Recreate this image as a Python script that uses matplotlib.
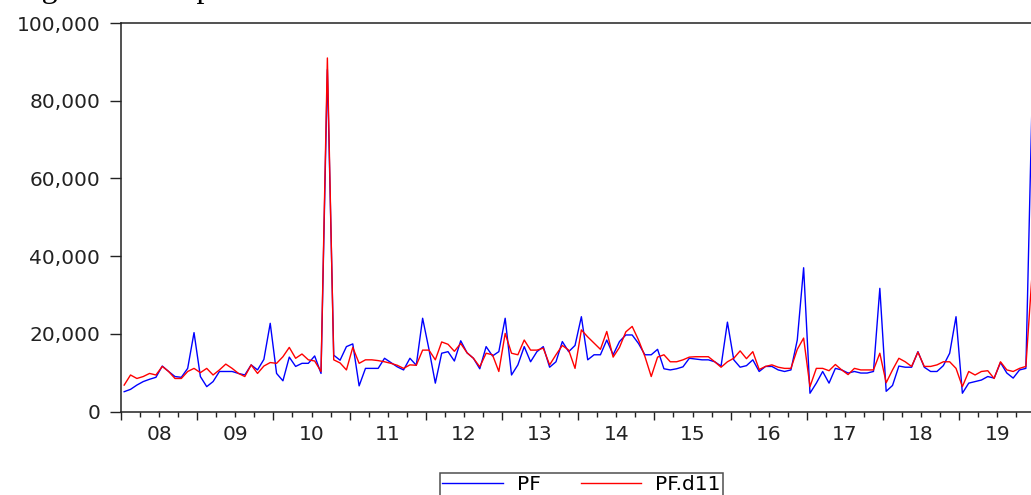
import numpy as np
import matplotlib.pyplot as plt
from matplotlib.ticker import FuncFormatter, MultipleLocator
import matplotlib.transforms as mtransforms

# PF y PF.d11, mensual 2008M01 - 2019M12 (miles)
pf = [5.1, 5.7, 6.8, 7.7, 8.3, 8.8, 11.7, 10.3, 9.0, 8.8, 11.1, 20.3,
      9.0, 6.4, 7.7, 10.3, 10.3, 10.3, 9.8, 9.4, 12.0, 10.7, 13.4, 22.7,
      9.8, 7.9, 14.0, 11.6, 12.4, 12.4, 14.3, 9.8, 88.0, 14.5, 13.2, 16.7,
      17.4, 6.6, 11.1, 11.1, 11.1, 13.7, 12.6, 11.5, 10.7, 13.7, 11.9, 24.0,
      16.0, 7.3, 15.0, 15.4, 13.0, 18.2, 15.1, 13.7, 11.0, 16.7, 14.3, 15.4,
      24.0, 9.4, 12.0, 16.7, 12.8, 15.4, 16.7, 11.4, 12.8, 18.0, 15.4, 17.0,
      24.4, 13.3, 14.6, 14.6, 18.4, 14.6, 18.0, 19.7, 19.7, 17.5, 14.6, 14.6,
      16.0, 11.0, 10.7, 11.0, 11.5, 13.7, 13.5, 13.3, 13.3, 12.8, 11.7, 23.0,
      13.3, 11.4, 11.8, 13.3, 10.3, 11.6, 11.6, 10.7, 10.3, 10.7, 18.4, 37.0,
      4.7, 7.3, 10.3, 7.3, 11.1, 10.7, 9.9, 10.3, 9.9, 9.9, 10.3, 31.7,
      5.2, 6.7, 11.7, 11.4, 11.4, 15.4, 11.4, 10.3, 10.3, 11.8, 15.0, 24.4,
      4.7, 7.3, 7.7, 8.1, 9.0, 8.6, 12.6, 9.9, 8.6, 10.7, 11.1, 82.0]

pf_d11 = [6.8, 9.4, 8.5, 9.0, 9.8, 9.4, 11.6, 10.3, 8.5, 8.5, 10.3, 11.1,
          10.0, 11.1, 9.4, 10.7, 12.2, 11.1, 9.8, 9.0, 12.0, 9.8, 11.7, 12.6,
          12.4, 14.1, 16.5, 13.7, 14.8, 13.3, 13.0, 10.3, 91.0, 13.3, 12.5, 10.7,
          16.5, 12.4, 13.3, 13.3, 13.1, 12.8, 12.4, 11.9, 11.1, 12.0, 11.9, 15.8,
          15.8, 13.3, 17.9, 17.3, 15.5, 17.5, 15.1, 13.7, 11.5, 15.0, 14.6, 10.3,
          20.1, 15.0, 14.6, 18.4, 15.8, 15.8, 16.3, 12.0, 14.6, 17.0, 15.8, 11.1,
          21.0, 19.2, 17.6, 16.0, 20.6, 14.0, 16.5, 20.5, 21.9, 18.4, 14.2, 9.0,
          14.0, 14.6, 12.8, 12.8, 13.3, 14.0, 14.1, 14.1, 14.1, 12.8, 11.4, 12.8,
          13.7, 15.6, 13.6, 15.4, 10.8, 11.6, 12.0, 11.4, 11.1, 11.1, 16.0, 18.9,
          6.4, 11.1, 11.1, 10.5, 12.1, 10.7, 9.5, 11.1, 10.7, 10.7, 10.7, 15.0,
          7.4, 10.7, 13.7, 12.8, 11.6, 15.3, 11.6, 11.6, 12.0, 12.8, 12.8, 11.1,
          6.4, 10.3, 9.4, 10.3, 10.5, 8.5, 12.8, 10.7, 10.3, 11.1, 11.6, 36.0]

year_labels = ["08", "09", "10", "11", "12", "13", "14", "15", "16", "17", "18", "19"]

pf = np.array(pf) * 1000
pf_d11 = np.array(pf_d11) * 1000
t = 2008 + (np.arange(len(pf)) + 0.5) / 12

plt.rcParams["font.family"] = ["DejaVu Sans"]

fig = plt.figure(figsize=(10.31, 4.95), dpi=100)
# el grafico original esta recortado por la derecha
ax = fig.add_axes([121 / 1031, 83.5 / 495, 914.4 / 1031, 388.5 / 495])

ax.plot(t, pf, color="#0000FF", lw=1.0, label="PF")
ax.plot(t, pf_d11, color="#FF0000", lw=1.0, label="PF.d11")

ax.set_xlim(2008, 2020)
ax.set_ylim(0, 100000)

ax.yaxis.set_major_locator(MultipleLocator(20000))
ax.yaxis.set_major_formatter(FuncFormatter(lambda v, p: f"{int(v):,}"))
ax.tick_params(axis="y", direction="out", length=8, width=1, pad=7,
               labelsize=14.5, colors="#222222")

ax.set_xticks(np.arange(2008, 2021))
ax.set_xticklabels([])
ax.xaxis.set_minor_locator(MultipleLocator(0.25))
ax.tick_params(axis="x", which="major", direction="out", length=6, width=1, color="#222222")
ax.tick_params(axis="x", which="minor", direction="out", length=3.5, width=1, color="#222222")

trans = mtransforms.blended_transform_factory(ax.transData, ax.transAxes)
for k, lab in enumerate(year_labels):
    ax.text(2008.5 + k, -0.058, lab, transform=trans, ha="center", va="center",
            fontsize=14.5, color="#222222")

for s in ["left", "bottom", "top"]:
    ax.spines[s].set_linewidth(1.1)
    ax.spines[s].set_color("#222222")

leg = fig.legend(loc="upper center", bbox_to_anchor=(581.5 / 1031, 22 / 495), ncol=2,
                 frameon=True, fancybox=False, edgecolor="#222222", fontsize=14.5,
                 handlelength=3.0, handletextpad=0.7, columnspacing=2.0,
                 borderpad=0.12, borderaxespad=0)
leg.get_frame().set_linewidth(1.1)

fig.text(15 / 1031, 1 + 3 / 495, "Figure 2: The plot of PF and PF.d11 series",
         family="Liberation Serif", fontsize=23, va="baseline", ha="left")

fig.savefig("out.png", dpi=100)
